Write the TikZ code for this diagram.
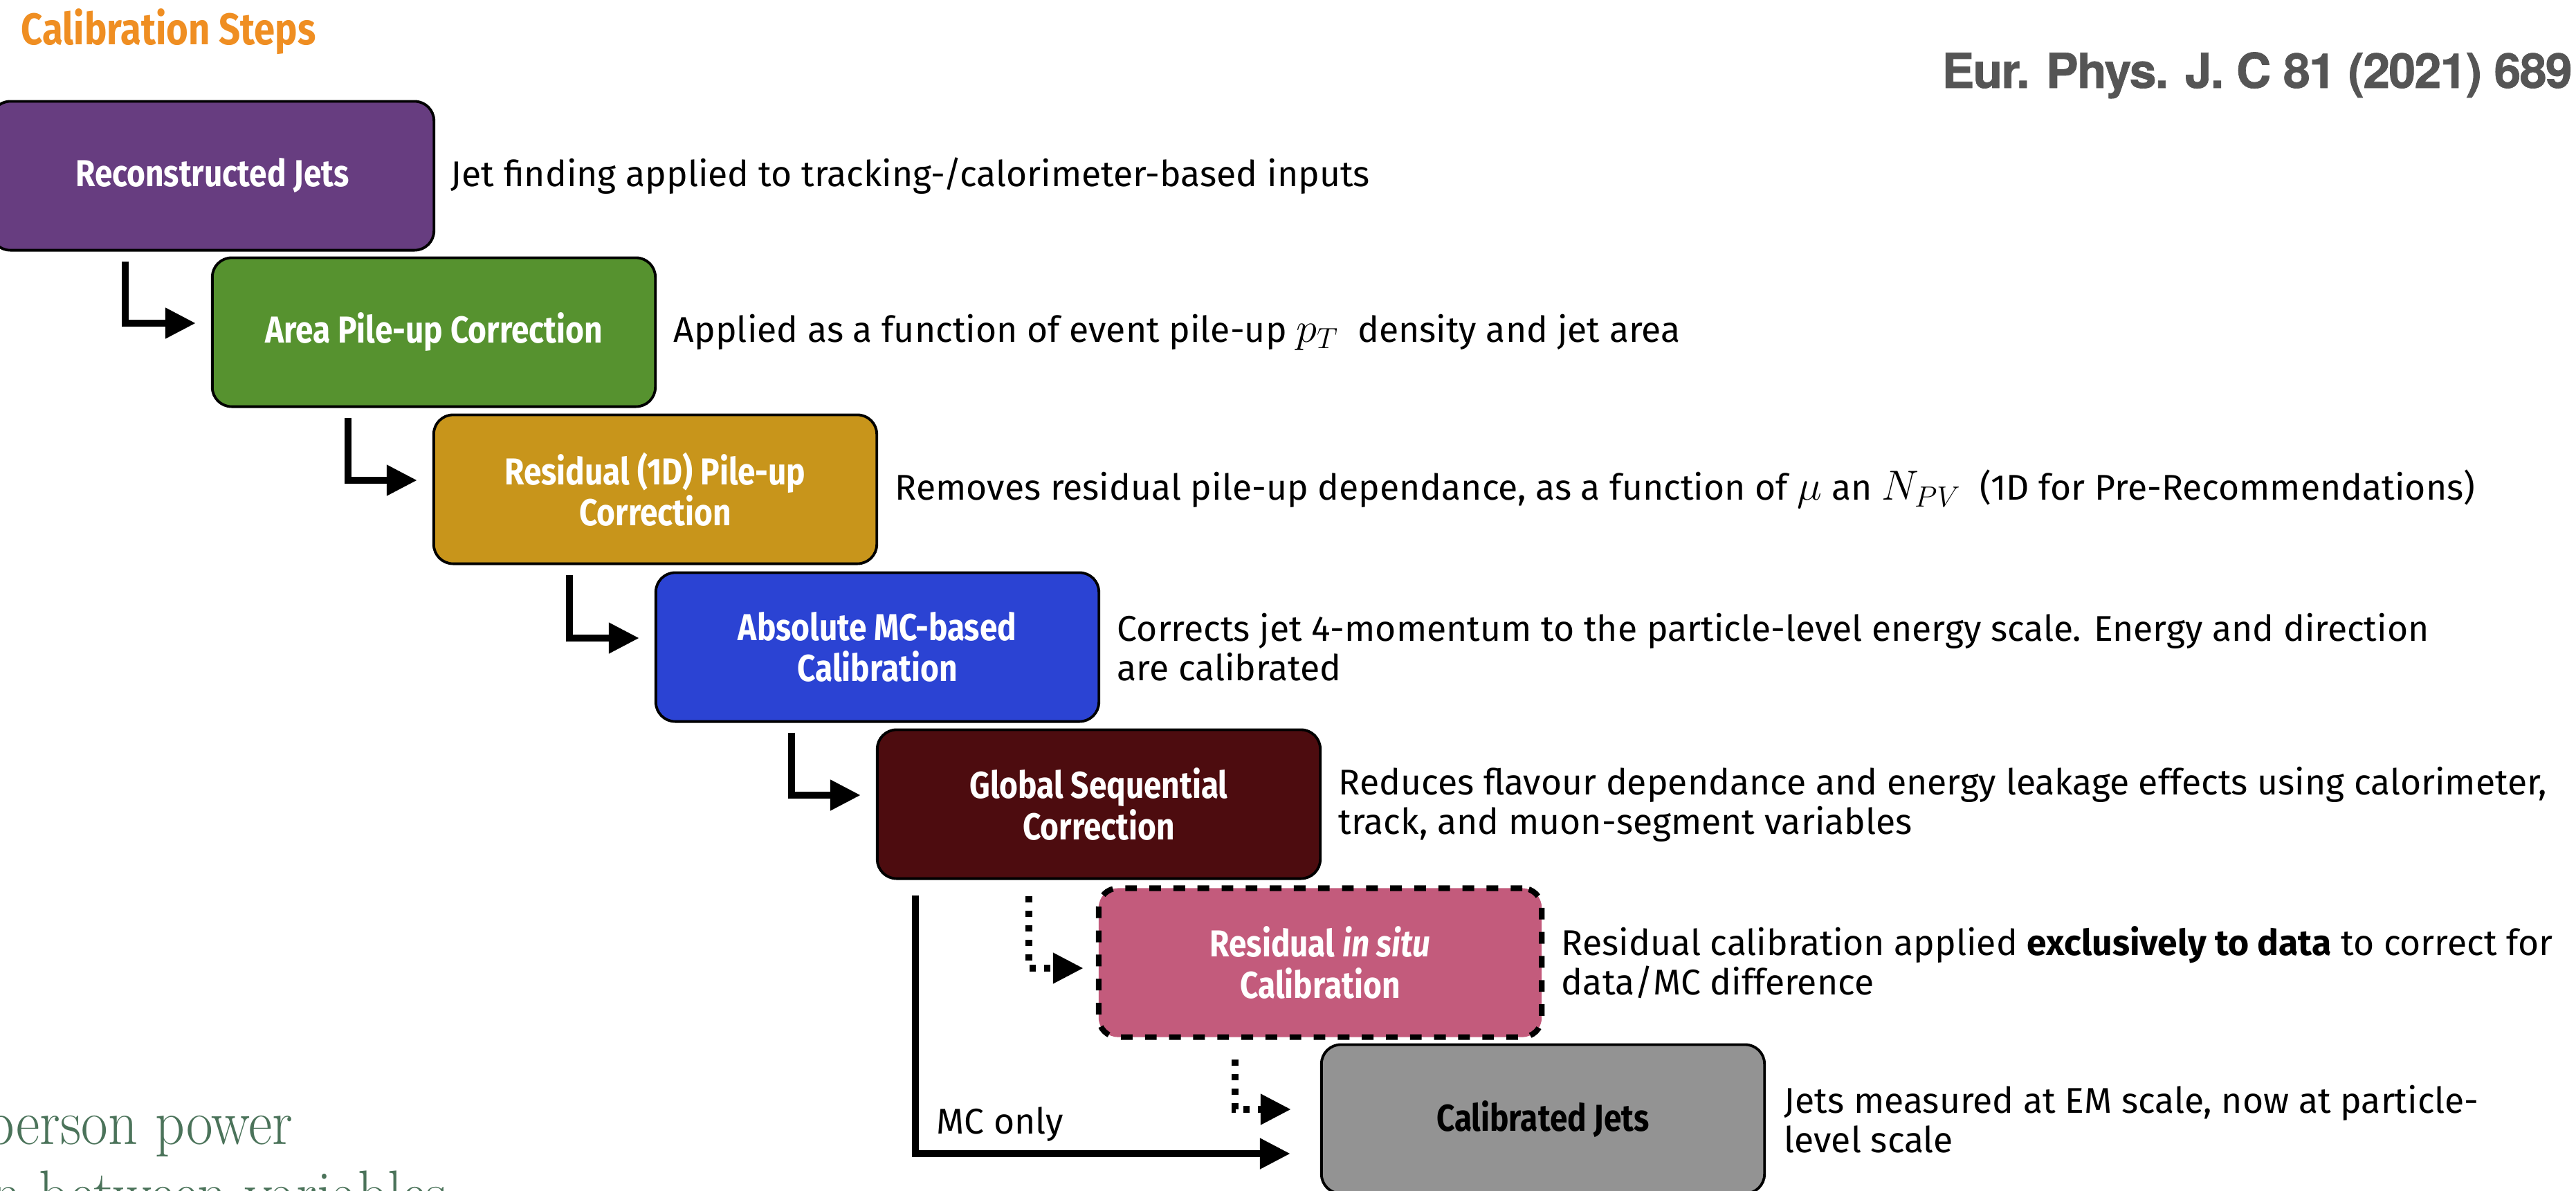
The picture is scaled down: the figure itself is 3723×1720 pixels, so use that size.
\documentclass[tikz,border=0pt]{standalone}
\usepackage{fontspec}
\setmainfont{Fira Sans}
\newfontfamily\boxfont{Fira Sans}[FakeStretch=0.85]
\newfontfamily\citefont{TeX Gyre Heros}[LetterSpace=-2.3,FakeBold=1]
\newfontfamily\slabfont{Latin Modern Roman}[FakeStretch=0.9]
\usetikzlibrary{arrows.meta,calc}
\definecolor{cpurple}{HTML}{673D80}
\definecolor{cgreenbox}{HTML}{56922F}
\definecolor{cgold}{HTML}{C8951B}
\definecolor{cblue}{HTML}{2B43D3}
\definecolor{cdarkred}{HTML}{4D0C0F}
\definecolor{cpink}{HTML}{C35B7C}
\definecolor{cgraybox}{HTML}{939393}
\definecolor{corange}{HTML}{EF8E22}
\definecolor{ccite}{HTML}{555555}
\definecolor{cslab}{HTML}{4B735A}
\newcommand{\bigmath}[1]{{\fontsize{18.5}{20}\selectfont$#1$}}
\begin{document}
\begin{tikzpicture}[x=0.01cm,y=-0.01cm,
  stepbox/.style={draw=black, line width=1.1pt, rounded corners=0.28cm,
    minimum width=6.4cm, minimum height=2.15cm, inner sep=0pt, align=center,
    text=white, font=\boxfont\bfseries\fontsize{15.4}{16.8}\selectfont},
  desc/.style={anchor=west, align=left, inner sep=0pt,
    font=\fontsize{14.7}{16.2}\selectfont},
  conn/.style={line width=2.85pt, -{Triangle[length=12.5pt,width=12pt]}},
  dotconn/.style={conn, dash pattern=on 2.6pt off 3.4pt},
]
\fill[white] (0,0) rectangle (3723,1720);
\useasboundingbox (0,0) rectangle (3723,1720);

% title and citation
\node[anchor=base west, inner sep=0pt, text=corange,
  font=\boxfont\bfseries\fontsize{18.2}{20}\selectfont] (title) at (30,64) {Calibration Steps};
\node[anchor=base west, inner sep=0pt, text=ccite,
  font=\citefont\bfseries\fontsize{19.8}{22}\selectfont] (cite) at (2806,127) {Eur. Phys. J. C 81 (2021) 689};

% boxes
\node[stepbox, fill=cpurple] (b1) at (307,254) {Reconstructed Jets};
\node[stepbox, fill=cgreenbox] (b2) at (627,480) {Area Pile-up Correction};
\node[stepbox, fill=cgold] (b3) at (947,707) {Residual (1D) Pile-up\\Correction};
\node[stepbox, fill=cblue] (b4) at (1268,935) {Absolute MC-based\\Calibration};
\node[stepbox, fill=cdarkred] (b5) at (1588,1162) {Global Sequential\\Correction};
\node[stepbox, fill=cpink, line width=2.3pt, dash pattern=on 4.8pt off 5.1pt] (b6) at (1908,1391) {Residual \textit{in situ}\\Calibration};
\node[stepbox, fill=cgraybox, text=black] (b7) at (2230,1617) {Calibrated Jets};

% descriptions
\node[desc] (d1) at ([xshift=0.22cm]b1.east) {Jet finding applied to tracking-/calorimeter-based inputs};
\node[desc] (d2) at ([xshift=0.24cm]b2.east) {Applied as a function of event pile-up \bigmath{p_T}\ \ density and jet area};
\node[desc] (d3) at ([xshift=0.24cm]b3.east) {Removes residual pile-up dependance, as a function of \bigmath{\mu} an \bigmath{N_{PV}}\ \ (1D for Pre-Recommendations)};
\node[desc] (d4) at ([xshift=0.24cm]b4.east) {Corrects jet 4-momentum to the particle-level energy scale. Energy and direction\\are calibrated};
\node[desc] (d5) at ([xshift=0.24cm]b5.east) {Reduces flavour dependance and energy leakage effects using calorimeter,\\track, and muon-segment variables};
\node[desc] (d6) at ([xshift=0.24cm]b6.east) {Residual calibration applied \textbf{exclusively to data} to correct for\\data/MC difference};
\node[desc] (d7) at ([xshift=0.26cm]b7.east) {Jets measured at EM scale, now at particle-\\level scale};

% connectors
\draw[conn] ($(b1.south west)+(196,14)$) |- ($(b2.west)+(-22,-13)$);
\draw[conn] ($(b2.south west)+(198,14)$) |- ($(b3.west)+(-22,-13)$);
\draw[conn] ($(b3.south west)+(198,14)$) |- ($(b4.west)+(-22,-13)$);
\draw[conn] ($(b4.south west)+(198,14)$) |- ($(b5.west)+(-22,-13)$);
\draw[dotconn] ($(b5.south west)+(221,23)$) |- ($(b6.west)+(-18,8)$);
\draw[dotconn] ($(b6.south west)+(201,28)$) |- ($(b7.west)+(-42,-14)$);
\draw[conn] ($(b5.south west)+(57,22)$) |- ($(b7.west)+(-43,50)$);
\node[desc, anchor=base west] (mc) at (1353,1638) {MC only};

% partial slide text at bottom left
\node[anchor=base west, inner sep=0pt, text=cslab,
  font=\slabfont\fontsize{26.5}{28}\selectfont] (g1) at (-22,1653) {person power};
\node[anchor=base west, inner sep=0pt, text=cslab,
  font=\slabfont\fontsize{26.5}{28}\selectfont] (g2) at (-12,1756) {n between variables};
\end{tikzpicture}
\end{document}
